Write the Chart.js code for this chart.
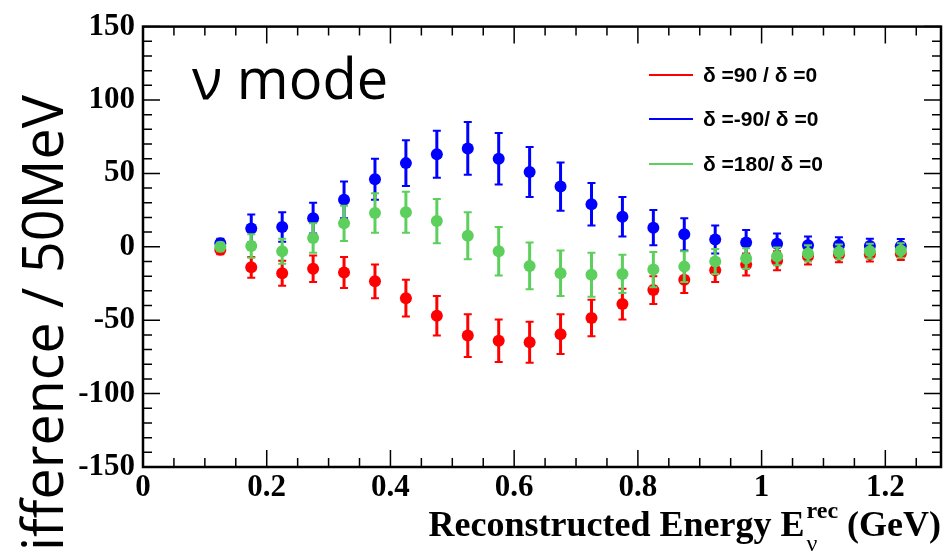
<!DOCTYPE html>
<html>
<head>
<meta charset="utf-8">
<script src="https://cdn.jsdelivr.net/npm/chart.js@4/dist/chart.umd.min.js"></script>
<style>
body {
    margin: 0;
    background: white;
}
#grafico {
    display: block;
}
</style>
</head>
<body>
<canvas id="grafico" width="948" height="552"></canvas>

<script>
// Centro dos bins de energia reconstruida (GeV)
const energy = [0.125, 0.175, 0.225, 0.275, 0.325, 0.375, 0.425, 0.475, 0.525, 0.575, 0.625, 0.675,
    0.725, 0.775, 0.825, 0.875, 0.925, 0.975, 1.025, 1.075, 1.125, 1.175, 1.225];

// delta = 90 / delta = 0
const diff90 = [-2, -14, -18, -15, -17.5, -23.5, -35, -47, -60.5, -64, -65, -59.5,
    -48.5, -39, -29.5, -22.5, -16, -12, -9.5, -6.5, -5.5, -5, -4.5];
const err90 = [3, 7, 8.5, 9, 10.5, 11.5, 12.5, 13.5, 14.5, 14.5, 14, 13.5,
    12.5, 10.5, 9.5, 9, 8, 7.5, 6.5, 5.5, 5, 5, 4.5];

// delta = -90 / delta = 0
const diffM90 = [2.5, 12.5, 13.5, 19.5, 32, 46, 57, 63, 67, 60, 51, 41,
    29, 20.5, 13, 8.5, 5, 3, 2, 1, 1, 0.5, 0.3];
const errM90 = [3, 9.5, 10, 10.5, 12.5, 14, 15.5, 16, 18, 17.5, 17, 16.5,
    14.5, 13.5, 12, 11, 9.5, 8.5, 7, 6, 5.5, 5, 5];

// delta = 180 / delta = 0
const diff180 = [0, 0.5, -3, 6, 16, 23, 23.5, 17.5, 7.5, -3, -13, -18,
    -19, -18.5, -15.5, -13.5, -10, -8, -6.5, -4.5, -3.5, -3, -2.5];
const err180 = [3, 8, 8.5, 10, 12, 13.5, 14, 15, 16, 16.5, 16, 15.5,
    15, 13, 12, 10.5, 8.5, 7, 6, 5.5, 5, 5, 5];

const legendLabels = ['\u03b4 =90 / \u03b4 =0', '\u03b4 =-90/ \u03b4 =0', '\u03b4 =180/ \u03b4 =0'];
const colors = ['#ff0000', '#0000ff', '#5ccf5c'];

const xMax = 1.29;
const yMin = -150, yMax = 150;

function pontos(ys) {
    return energy.map((e, i) => ({ x: e, y: ys[i] }));
}

// Barras de erro, desenhadas antes dos marcadores de cada serie
const errorBars = {
    id: 'errorBars',
    beforeDatasetDraw(chart, args) {
        const ds = chart.data.datasets[args.index];
        const yScale = chart.scales.y;
        const ctx = chart.ctx;
        ctx.save();
        ctx.strokeStyle = ds.backgroundColor;
        args.meta.data.forEach((pt, i) => {
            const v = ds.data[i].y;
            const top = yScale.getPixelForValue(v + ds.errors[i]);
            const bot = yScale.getPixelForValue(v - ds.errors[i]);
            ctx.lineWidth = 3;
            ctx.beginPath();
            ctx.moveTo(pt.x, top);
            ctx.lineTo(pt.x, bot);
            ctx.stroke();
            ctx.lineWidth = 2;
            ctx.beginPath();
            ctx.moveTo(pt.x - 4, top);
            ctx.lineTo(pt.x + 4, top);
            ctx.moveTo(pt.x - 4, bot);
            ctx.lineTo(pt.x + 4, bot);
            ctx.stroke();
        });
        ctx.restore();
    }
};

// Moldura no estilo ROOT, com marcas para dentro nos quatro lados
const frame = {
    id: 'frame',
    beforeDatasetsDraw(chart) {
        const ctx = chart.ctx;
        const a = chart.chartArea;
        const xs = chart.scales.x, ys = chart.scales.y;
        ctx.save();
        ctx.strokeStyle = '#000';
        ctx.lineWidth = 1.5;
        ctx.beginPath();
        for (let i = 0; i * 0.05 <= xMax; i++) {
            const px = xs.getPixelForValue(i * 0.05);
            const len = i % 4 === 0 ? 17 : 9;
            ctx.moveTo(px, a.bottom);
            ctx.lineTo(px, a.bottom - len);
            ctx.moveTo(px, a.top);
            ctx.lineTo(px, a.top + len);
        }
        for (let v = yMin; v <= yMax; v += 10) {
            const py = ys.getPixelForValue(v);
            const len = v % 50 === 0 ? 17 : 9;
            ctx.moveTo(a.left, py);
            ctx.lineTo(a.left + len, py);
            ctx.moveTo(a.right, py);
            ctx.lineTo(a.right - len, py);
        }
        ctx.stroke();
        ctx.lineWidth = 2.5;
        ctx.strokeRect(a.left, a.top, a.right - a.left, a.bottom - a.top);
        ctx.restore();
    },
    afterDraw(chart) {
        const ctx = chart.ctx;
        const a = chart.chartArea;
        ctx.save();
        ctx.fillStyle = '#000';

        // legenda
        ctx.font = 'bold 21px "Liberation Sans"';
        ctx.textBaseline = 'middle';
        ctx.textAlign = 'left';
        [75, 119, 164].forEach((y, i) => {
            ctx.strokeStyle = colors[i];
            ctx.lineWidth = 2;
            ctx.beginPath();
            ctx.moveTo(649, y);
            ctx.lineTo(693, y);
            ctx.stroke();
            ctx.fillText(legendLabels[i], 703, y + 1, i === 2 ? 145 : 139);
        });

        // texto "nu mode"
        ctx.textBaseline = 'alphabetic';
        ctx.font = '56px "Open Sans"';
        ctx.fillText('\u03bd mode', 192, 99, 200);

        // titulo do eixo y (cortado na borda como no original)
        ctx.save();
        ctx.translate(63, 0);
        ctx.rotate(-Math.PI / 2);
        ctx.textAlign = 'right';
        ctx.fillText('ifference / 50MeV', -95, 0, 456);
        ctx.restore();

        // titulo do eixo x com sobrescrito e subscrito
        const big = 'bold 36px "Liberation Serif"';
        const small = 'bold 24px "Liberation Serif"';
        const p1 = 'Reconstructed Energy E', p2 = 'rec', p3 = ' (GeV)';
        ctx.font = big;
        const w1 = ctx.measureText(p1).width, w3 = ctx.measureText(p3).width;
        ctx.font = small;
        const w2 = ctx.measureText(p2).width;
        let x = a.right - (w1 + w2 + 2 + w3);
        ctx.font = big;
        ctx.fillText(p1, x, 536);
        x += w1 + 2;
        ctx.font = small;
        ctx.fillText(p2, x, 518);
        ctx.font = '24px "Liberation Serif"';
        ctx.fillText('\u03bd', x, 551);
        x += w2;
        ctx.font = big;
        ctx.fillText(p3, x, 536);
        ctx.restore();
    }
};

new Chart(document.getElementById('grafico').getContext('2d'), {
    type: 'scatter',
    data: {
        datasets: [
            { label: legendLabels[2], data: pontos(diff180), errors: err180, backgroundColor: colors[2], order: 0 },
            { label: legendLabels[1], data: pontos(diffM90), errors: errM90, backgroundColor: colors[1], order: 1 },
            { label: legendLabels[0], data: pontos(diff90), errors: err90, backgroundColor: colors[0], order: 2 }
        ].map(d => Object.assign(d, { pointRadius: 6, borderWidth: 0, showLine: false }))
    },
    options: {
        responsive: false,
        animation: false,
        layout: {
            padding: { top: 19, right: 7, left: 0, bottom: 0 }
        },
        plugins: {
            legend: { display: false },
            tooltip: { enabled: false }
        },
        scales: {
            x: {
                type: 'linear',
                min: 0,
                max: xMax,
                grid: { display: false, drawTicks: false },
                border: { display: false },
                ticks: {
                    stepSize: 0.2,
                    includeBounds: false,
                    maxRotation: 0,
                    padding: 2,
                    color: '#000',
                    font: { family: 'Liberation Serif', weight: 'bold', size: 31 },
                    callback: v => String(Math.round(v * 10) / 10)
                },
                afterFit: s => { s.height = 85; }
            },
            y: {
                type: 'linear',
                min: yMin,
                max: yMax,
                grid: { display: false, drawTicks: false },
                border: { display: false },
                ticks: {
                    stepSize: 50,
                    padding: 8,
                    color: '#000',
                    font: { family: 'Liberation Serif', weight: 'bold', size: 31 },
                    callback: v => String(v)
                },
                afterFit: s => { s.width = 143; }
            }
        }
    },
    plugins: [errorBars, frame]
});
</script>
</body>
</html>
